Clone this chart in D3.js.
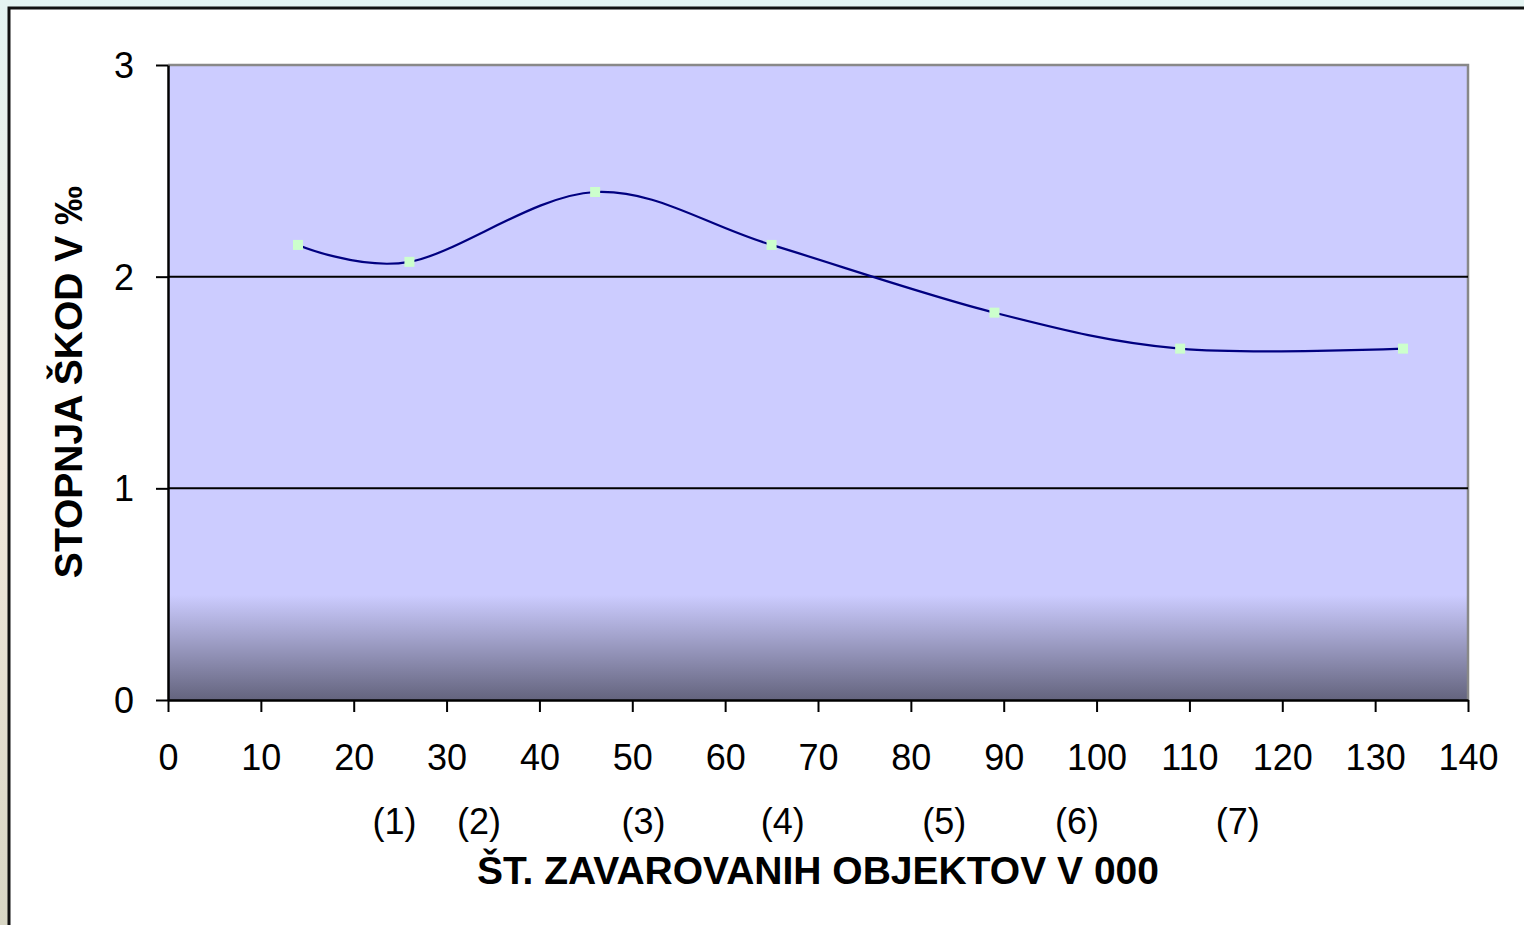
<!DOCTYPE html>
<html><head><meta charset="utf-8">
<script src="https://cdn.jsdelivr.net/npm/d3@7"></script>
<style>html,body{margin:0;padding:0;background:#fff;overflow:hidden;}svg{display:block;}</style>
</head><body>
<svg id="c" width="1524" height="925"></svg>
<script>
const xValues = [14, 26, 46, 65, 89, 109, 133];
const yValues = [2.15, 2.07, 2.40, 2.15, 1.83, 1.66, 1.66];
const xTicks = [0,10,20,30,40,50,60,70,80,90,100,110,120,130,140];
const yTicks = [0,1,2,3];
const groupLabels = ["(1)","(2)","(3)","(4)","(5)","(6)","(7)"];
const groupPos = [24.4, 33.5, 51.2, 66.2, 83.6, 97.9, 115.2];
const xTitle = "ŠT. ZAVAROVANIH OBJEKTOV V 000";
const yTitle = "STOPNJA ŠKOD V ‰";

const FONT = "Arial, 'Liberation Sans', sans-serif";
const svg = d3.select("#c");
const defs = svg.append("defs");
const bg = defs.append("linearGradient").attr("id","side").attr("x1",0).attr("y1",0).attr("x2",0).attr("y2",1);
bg.append("stop").attr("offset",0).attr("stop-color","#e4f4f2");
bg.append("stop").attr("offset",0.5).attr("stop-color","#f1e8dc");
bg.append("stop").attr("offset",1).attr("stop-color","#d8d6c4");

const L=168, R=1468, T=65, B=700;
const x = d3.scaleLinear().domain([0,140]).range([L,R]);
const y = d3.scaleLinear().domain([0,3]).range([B,T]);

const g = defs.append("linearGradient").attr("id","plotg").attr("x1",0).attr("y1",0).attr("x2",0).attr("y2",1);
g.append("stop").attr("offset",0).attr("stop-color","#CCCCFF");
g.append("stop").attr("offset",(595-T)/(B-T)).attr("stop-color","#CCCCFF");
g.append("stop").attr("offset",1).attr("stop-color","#64647e");

// side background and outer frame
svg.append("rect").attr("x",0).attr("y",0).attr("width",1524).attr("height",925).attr("fill","url(#side)");
svg.append("rect").attr("x",9).attr("y",8).attr("width",1530).attr("height",940).attr("fill","#fff").attr("stroke","#111").attr("stroke-width",3);

// plot area
svg.append("rect").attr("x",L).attr("y",T).attr("width",R-L).attr("height",B-T).attr("fill","url(#plotg)");
svg.append("path").attr("d",`M${L},${T}H${R}V${B}`).attr("fill","none").attr("stroke","#888").attr("stroke-width",2.5);

// gridlines
svg.append("g").selectAll("line").data(yTicks.filter(d=>d>0 && d<3)).join("line")
  .attr("x1",L).attr("x2",R).attr("y1",d=>y(d)).attr("y2",d=>y(d))
  .attr("stroke","#000").attr("stroke-width",2);

// axes
const xAxis = svg.append("g").attr("transform",`translate(0,${B})`)
  .call(d3.axisBottom(x).tickValues(xTicks).tickSize(12).tickSizeOuter(0));
const yAxis = svg.append("g").attr("transform",`translate(${L},0)`)
  .call(d3.axisLeft(y).tickValues(yTicks).tickSize(12).tickSizeOuter(0).tickFormat(d3.format("d")));
[xAxis,yAxis].forEach(a=>{
  a.select(".domain").attr("stroke","#000").attr("stroke-width",2.5);
  a.selectAll(".tick line").attr("stroke","#000").attr("stroke-width",2);
  a.selectAll(".tick text").attr("font-family",FONT).attr("font-size",36).attr("fill","#000");
});
xAxis.selectAll(".tick text").attr("dy","0.71em").attr("y",44);
yAxis.selectAll(".tick text").attr("dy","0.35em").attr("x",-34);

// line
const line = d3.line().x((d,i)=>x(xValues[i])).y(d=>y(d)).curve(d3.curveCatmullRom.alpha(0));
svg.append("path").datum(yValues).attr("d",line).attr("fill","none").attr("stroke","#000080").attr("stroke-width",2.2);
svg.append("g").selectAll("rect").data(yValues).join("rect")
  .attr("x",(d,i)=>x(xValues[i])-5).attr("y",d=>y(d)-5).attr("width",10).attr("height",10).attr("fill","#CCFFCC");

// group labels
svg.append("g").selectAll("text").data(groupLabels).join("text")
  .attr("x",(d,i)=>x(groupPos[i])).attr("y",834).attr("text-anchor","middle")
  .attr("font-family",FONT).attr("font-size",36).text(d=>d);

// titles
svg.append("text").attr("x",818).attr("y",884).attr("text-anchor","middle")
  .attr("font-family",FONT).attr("font-weight","bold").attr("font-size",39).text(xTitle);
svg.append("text").attr("transform","translate(82,382) rotate(-90)").attr("text-anchor","middle")
  .attr("font-family",FONT).attr("font-weight","bold").attr("font-size",39).text(yTitle);
</script>
</body></html>
